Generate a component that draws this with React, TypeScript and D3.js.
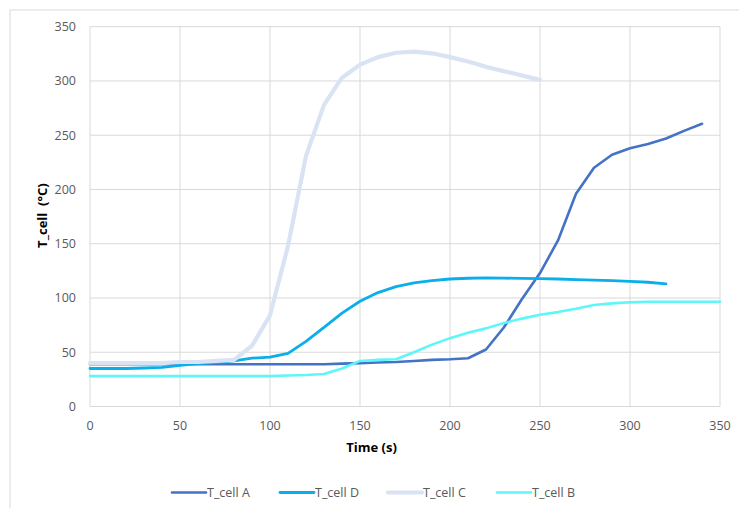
import React from "react";
import * as d3 from "d3";

const times: number[] = d3.range(0, 360, 10);

const seriesA: number[] = [39, 39, 39, 39, 39, 39, 39, 39, 39, 39, 39, 39, 39, 39, 39.5, 40, 40.5, 41, 42, 43, 43.5, 44.5, 52.5, 73, 99, 123, 153, 196, 220, 232, 238, 242, 247, 254, 260.5];
const seriesD: number[] = [35, 35, 35, 35.5, 36, 38, 39.5, 40.5, 42, 44.5, 45.5, 49, 60, 73, 86, 97, 105, 110.5, 114, 116, 117.5, 118.2, 118.5, 118.3, 118, 117.8, 117.5, 117, 116.5, 116, 115.3, 114.5, 113];
const seriesC: number[] = [40, 40, 40, 40, 40, 41, 41, 42, 43, 56, 84, 148, 231, 278, 303, 315, 322, 326, 327, 325.5, 322, 318, 313, 309, 305, 301];
const seriesB: number[] = [28, 28, 28, 28, 28, 28, 28, 28, 28, 28, 28, 28.5, 29, 30, 35, 42, 43, 43.5, 50, 57, 63, 68, 72, 77, 81, 84.5, 87, 90, 93.5, 95, 96, 96.5, 96.5, 96.5, 96.5, 96.5];

const seriesNames: string[] = ["T_cell A", "T_cell D", "T_cell C", "T_cell B"];
const xTicks: number[] = [0, 50, 100, 150, 200, 250, 300, 350];
const yTicks: number[] = [0, 50, 100, 150, 200, 250, 300, 350];

const xTitle = "Time (s)";
const yTitle = "T_cell\u00A0 (°C)";

const colors = ["#4472C4", "#0AAEEA", "#DAE3F3", "#5EF6F8"];
const widths = [2.6, 2.8, 4.2, 2.6];

export default function App() {
  const W = 739;
  const H = 508;
  const left = 90, right = 720, top = 26.7, bottom = 406.5;
  const x = d3.scaleLinear().domain([0, 350]).range([left, right]);
  const y = d3.scaleLinear().domain([0, 350]).range([bottom, top]);
  const data = [seriesA, seriesD, seriesC, seriesB];
  const line = d3
    .line<[number, number]>()
    .x((d) => x(d[0]))
    .y((d) => y(d[1]));
  const font = "'Open Sans', 'Noto Sans', sans-serif";
  const legendX = [172, 280, 388, 497];
  const legendY = 492.5;

  return (
    <svg
      width={W}
      height={H}
      style={{ position: "absolute", left: 0, top: 0, display: "block", background: "#fff" }}
      fontFamily={font}
    >
      <rect x={0} y={0} width={W} height={H} fill="#fff" />
      <rect x={10} y={10} width={W + 10} height={H + 10} fill="none" stroke="#D9D9D9" strokeWidth={1} />
      {yTicks.map((t) => (
        <line key={"gy" + t} x1={left} x2={right} y1={y(t)} y2={y(t)} stroke="#D9D9D9" strokeWidth={1} />
      ))}
      {xTicks.map((t) => (
        <line key={"gx" + t} x1={x(t)} x2={x(t)} y1={top} y2={bottom} stroke="#D9D9D9" strokeWidth={1} />
      ))}
      {yTicks.map((t) => (
        <text key={"ty" + t} x={76} y={y(t)} dy="0.35em" textAnchor="end" fontSize={12.5} fill="#595959">
          {t}
        </text>
      ))}
      {xTicks.map((t) => (
        <text key={"tx" + t} x={x(t)} y={430} textAnchor="middle" fontSize={12.5} fill="#595959">
          {t}
        </text>
      ))}
      <text x={371.5} y={451.5} textAnchor="middle" fontSize={13} fontWeight="bold" fill="#000">
        {xTitle}
      </text>
      <text
        transform={`translate(47, ${(top + bottom) / 2 - 1}) rotate(-90)`}
        textAnchor="middle"
        fontSize={13}
        fontWeight="bold"
        fill="#000"
      >
        {yTitle}
      </text>
      {data.map((s, i) => (
        <path
          key={"s" + i}
          d={line(s.map((v, j) => [times[j], v] as [number, number])) || ""}
          fill="none"
          stroke={colors[i]}
          strokeWidth={widths[i]}
          strokeLinejoin="round"
          strokeLinecap="round"
        />
      ))}
      {seriesNames.map((n, i) => (
        <g key={"lg" + i}>
          <line
            x1={legendX[i]}
            x2={legendX[i] + 34}
            y1={legendY}
            y2={legendY}
            stroke={colors[i]}
            strokeWidth={widths[i]}
            strokeLinecap="round"
          />
          <text x={legendX[i] + 35} y={legendY} dy="0.35em" fontSize={12.5} fill="#595959">
            {n}
          </text>
        </g>
      ))}
    </svg>
  );
}
